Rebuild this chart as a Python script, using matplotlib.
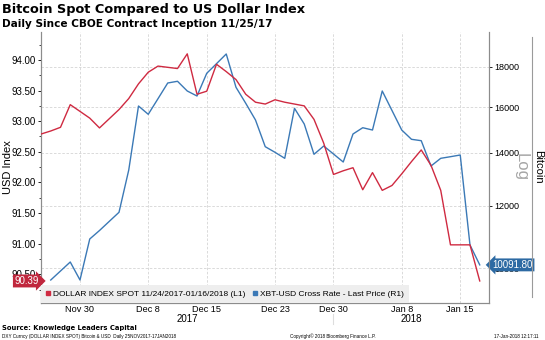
import numpy as np
import pandas as pd
import matplotlib
matplotlib.use("Agg")
import matplotlib.pyplot as plt
from matplotlib.ticker import FixedLocator, MultipleLocator, FormatStrFormatter, NullLocator, FuncFormatter
from matplotlib.lines import Line2D
import matplotlib.transforms as mtransforms

plt.rcParams["font.family"] = ["Liberation Sans", "DejaVu Sans"]

# Daily sample grid (Sundays are not sampled)
dates = pd.bdate_range("2017-11-25", "2018-01-17", freq="C",
                       weekmask="Mon Tue Wed Thu Fri Sat")

# DXY (left axis)
dxy = [92.79, 92.84, 92.90, 93.27, 93.16, 93.05, 92.89, 93.04, 93.19, 93.37,
       93.61, 93.80, 93.90, 93.88, 93.86, 94.10, 93.44, 93.49, 93.93, 93.81,
       93.68, 93.44, 93.31, 93.28, 93.35, 93.31, 93.28, 93.25, 93.03, 92.64,
       92.13, 92.19, 92.24, 91.88, 92.16, 91.87, 91.95, 92.14, 92.34, 92.53,
       92.28, 91.87, 90.98, 90.98, 90.98, 90.39]

# XBT-USD (right axis, log scale)
xbt = [np.nan, 9656, 9913, 10177, 9656, 10884, 11157, 11458, 11766, 13312,
       16048, 15664, 16394, 17163, 17249, 16767, 16523, 17656, 18158, 18680,
       16949, 16175, 15405, 14250, 14019, 13775, 15940, 15226, 13938, 14279,
       13949, 13627, 14788, 15062, 14961, 16767, 15839, 14961, 14561, 14502,
       13469, 13775, 13840, 13909, 10695, 10091.80]

tick_dates = ["2017-11-30", "2017-12-08", "2017-12-15", "2017-12-23",
              "2017-12-30", "2018-01-08", "2018-01-15"]
tick_labels = ["Nov 30", "Dec 8", "Dec 15", "Dec 23", "Dec 30", "Jan 8", "Jan 15"]
btc_ticks = [10000, 12000, 14000, 16000, 18000]

dxy_label = "DOLLAR INDEX SPOT 11/24/2017-01/16/2018 (L1)"
xbt_label = "XBT-USD Cross Rate - Last Price (R1)"

RED = "#cf2a41"
BLUE = "#3b79b6"
GRID = "#d4d4d4"
SPINE = "#8c8c8c"

W, H = 545, 340
x = np.arange(len(dates))
date_pos = {d.strftime("%Y-%m-%d"): i for i, d in enumerate(dates)}
tick_pos = [date_pos[d] for d in tick_dates]

fig = plt.figure(figsize=(W / 100, H / 100), dpi=100)
L, R, T, B = 41, 489, 32, 303
ax_btc = fig.add_axes([L / W, 1 - B / H, (R - L) / W, (B - T) / H])
ax_dxy = ax_btc.twinx()

# Bitcoin axis: drawn first, carries the grid
ax_btc.yaxis.tick_right()
ax_btc.yaxis.set_label_position("right")
ax_btc.set_yscale("log")
ax_btc.set_ylim(9029, 19918)
ax_btc.yaxis.set_major_locator(FixedLocator(btc_ticks))
ax_btc.yaxis.set_major_formatter(FuncFormatter(lambda v, p: f"{v:.0f}"))
ax_btc.yaxis.set_minor_locator(NullLocator())
ax_btc.plot(x, xbt, color=BLUE, lw=1.0, zorder=3)
ax_btc.set_xlim(0, 45.95)
ax_btc.set_xticks(tick_pos)
ax_btc.set_xticklabels(tick_labels)
ax_btc.grid(True, which="major", axis="both", color=GRID, lw=0.6, ls=(0, (3, 2)))
ax_btc.tick_params(axis="y", which="major", direction="out", length=2, width=0.6,
                   labelsize=6.5, pad=1.5, colors="black", right=True, left=False)
ax_btc.tick_params(axis="x", length=0, labelsize=6.6, pad=1.8)

# Dollar index axis on the left
ax_dxy.yaxis.tick_left()
ax_dxy.yaxis.set_label_position("left")
ax_dxy.set_ylim(90.03, 94.457)
ax_dxy.yaxis.set_major_locator(MultipleLocator(0.5))
ax_dxy.yaxis.set_minor_locator(MultipleLocator(0.25))
ax_dxy.yaxis.set_major_formatter(FormatStrFormatter("%.2f"))
ax_dxy.tick_params(axis="y", which="major", direction="out", length=2.5, width=0.6,
                   labelsize=7, pad=1.5, left=True, right=False)
ax_dxy.tick_params(axis="y", which="minor", direction="out", length=1.5, width=0.5,
                   left=True, right=False)
ax_dxy.plot(x, dxy, color=RED, lw=1.0, zorder=3)
ax_dxy.set_ylabel("USD Index", fontsize=8)
ax_dxy.yaxis.set_label_coords((13 - L) / (R - L), 0.5)

for a in (ax_btc, ax_dxy):
    a.spines["top"].set_visible(False)
    for s in ("left", "right", "bottom"):
        a.spines[s].set_color(SPINE)
        a.spines[s].set_linewidth(0.8)

# Legend strip
handles = [Line2D([], [], ls="none", marker="s", ms=3, color=RED),
           Line2D([], [], ls="none", marker="s", ms=3, color=BLUE)]
leg = ax_dxy.legend(handles, [dxy_label, xbt_label], loc="lower left", ncol=2,
                    fontsize=6.0, frameon=True, fancybox=False, borderaxespad=0,
                    handlelength=0.5, handletextpad=0.3, columnspacing=1.0,
                    borderpad=0.6, framealpha=1)
leg.get_frame().set_facecolor("#eeeeee")
leg.get_frame().set_edgecolor("none")
leg.set_zorder(10)

# Last-value tags
ax_dxy.text(-0.005, dxy[-1], f"{dxy[-1]:.2f}",
            transform=mtransforms.blended_transform_factory(ax_dxy.transAxes, ax_dxy.transData),
            ha="right", va="center", color="white", fontsize=7, clip_on=False,
            bbox=dict(boxstyle="rarrow,pad=0.15", fc="#c0273d", ec="none"))
ax_btc.text(1.008, xbt[-1], f"{xbt[-1]:.2f}",
            transform=mtransforms.blended_transform_factory(ax_btc.transAxes, ax_btc.transData),
            ha="left", va="center", color="white", fontsize=7, clip_on=False,
            bbox=dict(boxstyle="larrow,pad=0.15", fc="#2d6aa3", ec="none"))

# Year labels under the date ticks
years = [d.year for d in dates]
split = max(i for i, y in enumerate(years) if y == 2017)
xlim = ax_btc.get_xlim()
year_tr = mtransforms.blended_transform_factory(ax_btc.transData, fig.transFigure)
ax_btc.text((xlim[0] + split) / 2, 1 - 319.5 / H, "2017", transform=year_tr,
            ha="center", va="center", fontsize=7)
ax_btc.text((split + xlim[1]) / 2, 1 - 319.5 / H, "2018", transform=year_tr,
            ha="center", va="center", fontsize=7)
ax_btc.add_line(Line2D([split, split], [1 - 314 / H, 1 - 324 / H], transform=year_tr,
                       color="#dddddd", lw=0.8, clip_on=False))

# Right-hand axis captions
fig.text(521 / W, 1 - 167 / H, "Log", rotation=270, ha="center", va="center",
         fontsize=12, color="#a6a6a6")
fig.text(538 / W, 1 - 167 / H, "Bitcoin", rotation=270, ha="center", va="center",
         fontsize=8)
fig.add_artist(Line2D([532 / W, 532 / W], [1 - 37 / H, 1 - 297 / H],
                      transform=fig.transFigure, color="#9a9a9a", lw=0.8))

# Titles and footer
fig.text(2 / W, 1 - 10 / H, "Bitcoin Spot Compared to US Dollar Index",
         fontsize=9.3, fontweight="bold", family="DejaVu Sans", ha="left", va="center")
fig.text(2 / W, 1 - 24 / H, "Daily Since CBOE Contract Inception 11/25/17",
         fontsize=7.6, fontweight="bold", family="DejaVu Sans", ha="left", va="center")
fig.text(2 / W, 1 - 328 / H, "Source: Knowledge Leaders Capital",
         fontsize=4.9, fontweight="bold", family="DejaVu Sans", ha="left", va="center")
fig.text(2 / W, 1 - 336.5 / H,
         "DXY Curncy (DOLLAR INDEX SPOT) Bitcoin & USD  Daily 25NOV2017-17JAN2018",
         fontsize=3.3, ha="left", va="center")
fig.text(290 / W, 1 - 336.5 / H, "Copyright\u00a9 2018 Bloomberg Finance L.P.",
         fontsize=3.3, ha="left", va="center")
fig.text(494 / W, 1 - 336.5 / H, "17-Jan-2018 12:17:11",
         fontsize=3.3, ha="left", va="center")

fig.savefig("out.png", dpi=100)
